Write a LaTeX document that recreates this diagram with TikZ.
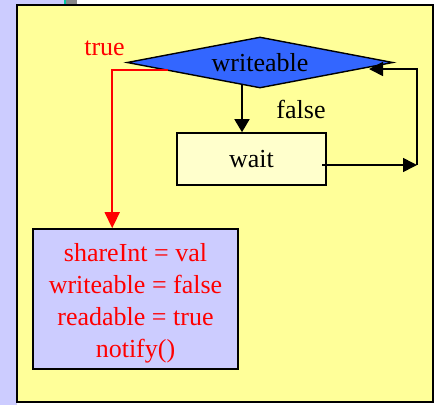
\documentclass[tikz,border=0pt]{standalone}
\usepackage{fontspec}
\setmainfont{Liberation Serif}
\usetikzlibrary{shapes.geometric,arrows.meta,calc}
\definecolor{pageyellow}{HTML}{FFFF99}
\definecolor{lavender}{HTML}{CCCCFF}
\definecolor{condblue}{HTML}{3366FF}
\definecolor{paleyellow}{HTML}{FFFFCC}
\definecolor{tealbit}{HTML}{00C8A0}
\definecolor{greybit}{HTML}{888888}
\tikzset{
  flowtext/.style={font=\fontsize{26}{32}\selectfont},
  cond/.style={diamond, draw=black, line width=1.4pt, fill=condblue, shape aspect=5.2,
    minimum width=266pt, minimum height=51pt, inner sep=0pt, flowtext},
  procbox/.style={rectangle, draw=black, line width=1.6pt, inner sep=0pt, flowtext},
  flow/.style={line width=1.6pt, -{Triangle[length=14pt,width=14pt]}},
  lbl/.style={flowtext, anchor=base, inner sep=0pt}
}
\begin{document}
\begin{tikzpicture}[x=1pt,y=-1pt]
  \useasboundingbox (0,0) rectangle (436,405);
  % page surroundings
  \fill[white] (0,0) rectangle (436,405);
  \fill[lavender] (0,0) rectangle (17,405);
  \fill[lavender] (0,0) rectangle (64,5);
  \fill[tealbit] (64,0) rectangle (66,5);
  \fill[greybit] (66,0) rectangle (77,5);
  % slide panel
  \draw[fill=pageyellow, line width=2pt] (17,5) rectangle (433,402);

  % flowchart nodes
  \node[cond] (test) at (260,62.5) {writeable};
  \node[procbox, fill=paleyellow, minimum width=149pt, minimum height=52pt] (wait) at (251.5,159) {wait};
  \node[procbox, fill=lavender, minimum width=205pt, minimum height=140pt] (act) at (135.5,299) {};
  \node[flowtext, text=red, align=center, inner sep=0pt] (acttext) at (135.5,303)
    {shareInt = val\\writeable = false\\readable = true\\notify()};

  % branch labels
  \node[lbl, text=red] (truelbl) at (104.5,55) {true};
  \node[lbl] (falselbl) at (301,118) {false};

  % connector end points
  \coordinate (tstart) at (168,70);
  \coordinate (wstart) at (322,165);
  \coordinate (corner) at (417,165);
  \coordinate (back) at (369,69);

  % true branch
  \draw[flow, red, -{Triangle[length=16pt,width=15pt]}] (tstart) -| ([xshift=80pt]act.north west);
  % false branch
  \draw[flow, -{Triangle[length=13pt,width=15pt]}] ($(test.south)!0.135!(test.west)$) -- ([xshift=-9.5pt]wait.north);
  % loop back after waiting
  \draw[flow] (wstart) -- (corner);
  \draw[flow] (corner) |- (back);
\end{tikzpicture}
\end{document}
